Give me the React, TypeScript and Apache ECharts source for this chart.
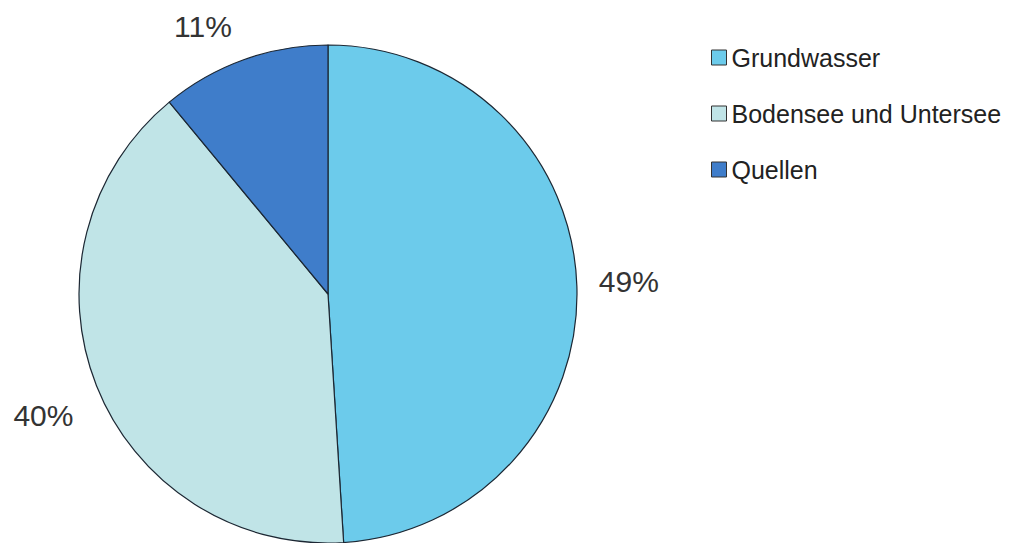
import React, { useEffect, useRef } from "react";
import * as echarts from "echarts";

const categories = ["Grundwasser", "Bodensee und Untersee", "Quellen"];
const values = [49, 40, 11];
const colors = ["#6ccbeb", "#c0e4e7", "#3f7dca"];
const labelShift = [
  [-3, -4],
  [1, 25],
  [4, -20],
];

export default function App() {
  const ref = useRef<HTMLDivElement>(null);
  useEffect(() => {
    if (!ref.current) return;
    const chart = echarts.init(ref.current, null, { renderer: "svg" });
    chart.setOption({
      animation: false,
      textStyle: { fontFamily: "Liberation Sans, Arial, sans-serif" },
      legend: {
        orient: "vertical",
        left: 706,
        top: 40,
        itemWidth: 15,
        itemHeight: 15,
        itemGap: 31,
        icon: "rect",
        data: categories,
        textStyle: { fontSize: 25, color: "#222", padding: [0, 0, 0, 0] },
        itemStyle: { borderColor: "#333", borderWidth: 1 },
      },
      series: [
        {
          type: "pie",
          center: [328, 294],
          radius: 249,
          startAngle: 90,
          clockwise: true,
          itemStyle: { borderColor: "#1c2733", borderWidth: 1.2 },
          label: {
            show: true,
            position: "outside",
            formatter: "{c}%",
            fontSize: 30,
            color: "#333",
          },
          labelLine: { show: false, length: 14, length2: 6 },
          labelLayout: (p: any) => ({
            dx: labelShift[p.dataIndex][0],
            dy: labelShift[p.dataIndex][1],
          }),
          emphasis: { disabled: true },
          data: categories.map((name, i) => ({
            name,
            value: values[i],
            itemStyle: { color: colors[i] },
          })),
        },
      ],
    });
    return () => chart.dispose();
  }, []);
  return (
    <div
      ref={ref}
      style={{ position: "fixed", left: 0, top: 0, width: 1015, height: 543, background: "#fff" }}
    />
  );
}
